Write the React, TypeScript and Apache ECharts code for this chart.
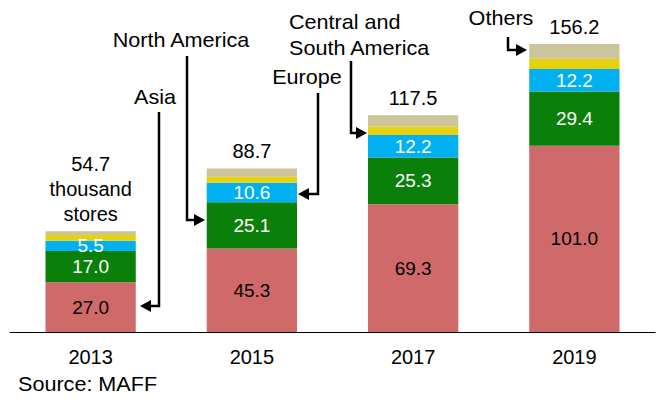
import React, { useEffect, useRef } from "react";
import * as echarts from "echarts";

const categories = ["2013", "2015", "2017", "2019"];
const asia = [27.0, 45.3, 69.3, 101.0];
const northAmerica = [17.0, 25.1, 25.3, 29.4];
const europe = [5.5, 10.6, 12.2, 12.2];
const centralSouthAmerica = [3.1, 3.2, 4.7, 5.6];
const others = [2.1, 4.5, 6.0, 8.0];
const totals = [54.7, 88.7, 117.5, 156.2];

const FONT = "'Liberation Sans', Arial, sans-serif";

export default function App() {
  const ref = useRef<HTMLDivElement>(null);
  useEffect(() => {
    if (!ref.current) return;
    const chart = echarts.init(ref.current, null, { renderer: "svg" });
    const seg = (name: string, data: number[], color: string, labelColor?: string, extra?: any) => ({
      name,
      type: "bar",
      stack: "total",
      data,
      barWidth: "56%",
      itemStyle: { color },
      label: labelColor
        ? {
            show: true,
            position: "inside",
            color: labelColor,
            fontSize: 19,
            fontFamily: FONT,
            formatter: (p: any) => Number(p.value).toFixed(1),
          }
        : { show: false },
      ...extra,
    });
    const lineStyle = { stroke: "#000", lineWidth: 2.5, fill: null };
    const arrowHead = (tipX: number, tipY: number, dir: "left" | "right") => {
      const d = dir === "left" ? 1 : -1;
      return {
        type: "polygon",
        shape: {
          points: [
            [tipX, tipY],
            [tipX + d * 11, tipY - 6],
            [tipX + d * 11, tipY + 6],
          ],
        },
        style: { fill: "#000" },
      };
    };
    const txt = (text: string, x: number, y: number, align = "center") => ({
      type: "text",
      x,
      y,
      scaleX: 1.08,
      style: {
        text,
        fill: "#000",
        fontSize: 20,
        fontFamily: FONT,
        align,
        verticalAlign: "middle",
        lineHeight: 26,
      },
    });
    chart.setOption({
      animation: false,
      grid: { left: 10, right: 6, top: 37, bottom: 71 },
      xAxis: {
        type: "category",
        data: categories,
        axisLine: { show: true, lineStyle: { color: "#000", width: 1 } },
        axisTick: { show: false },
        axisLabel: { color: "#000", fontSize: 20, fontFamily: FONT, margin: 15 },
      },
      yAxis: { type: "value", min: 0, max: 160, show: false, splitLine: { show: false } },
      series: [
        seg("Asia", asia, "#D06A6A", "#000"),
        seg("North America", northAmerica, "#0A800A", "#fff"),
        seg("Europe", europe, "#00B0F0", "#fff"),
        seg("Central and South America", centralSouthAmerica, "#E6D20C"),
        seg("Others", others, "#CCC49A", undefined, {
          label: {
            show: true,
            position: "top",
            distance: 5,
            color: "#000",
            fontSize: 20,
            fontFamily: FONT,
            lineHeight: 25,
            formatter: (p: any) =>
              p.dataIndex === 0
                ? totals[p.dataIndex].toFixed(1) + "\nthousand\nstores"
                : totals[p.dataIndex].toFixed(1),
          },
        }),
      ],
      graphic: [
        txt("Asia", 155, 97),
        { type: "polyline", shape: { points: [[159, 112], [159, 306], [148, 306]] }, style: lineStyle },
        arrowHead(140, 306, "left"),
        txt("North America", 181, 40),
        { type: "polyline", shape: { points: [[187, 56], [187, 220], [196, 220]] }, style: lineStyle },
        arrowHead(205, 220, "right"),
        txt("Europe", 307, 77),
        { type: "polyline", shape: { points: [[318, 93], [318, 194], [307, 194]] }, style: lineStyle },
        arrowHead(298, 194, "left"),
        txt("Central and\nSouth America", 289, 35, "left"),
        { type: "polyline", shape: { points: [[351, 61], [351, 133], [358, 133]] }, style: lineStyle },
        arrowHead(367, 133, "right"),
        txt("Others", 501, 18),
        { type: "polyline", shape: { points: [[508, 37], [508, 50], [518, 50]] }, style: lineStyle },
        arrowHead(527, 50, "right"),
        {
          type: "text",
          x: 18,
          y: 384,
          scaleX: 1.08,
          style: { text: "Source: MAFF", fill: "#000", fontSize: 20, fontFamily: FONT, verticalAlign: "middle" },
        },
      ],
    });
    return () => chart.dispose();
  }, []);
  return (
    <div
      ref={ref}
      style={{ position: "fixed", left: 0, top: 0, width: 661, height: 403, background: "#fff" }}
    />
  );
}
